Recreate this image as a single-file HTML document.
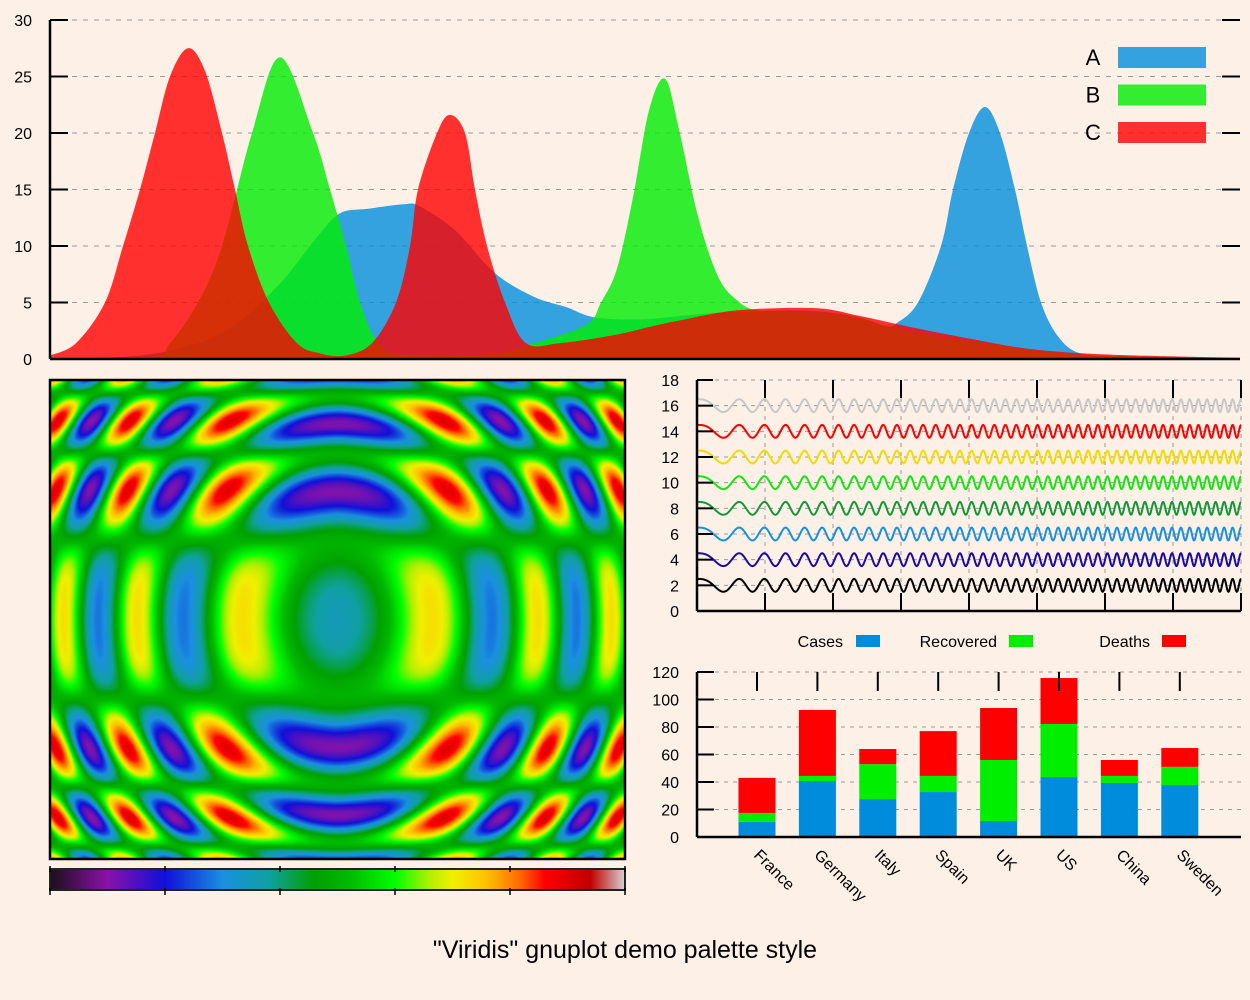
<!DOCTYPE html>
<html><head><meta charset="utf-8">
<style>
html,body{margin:0;padding:0;background:#fdf0e6;}
#wrap{position:relative;width:1250px;height:1000px;overflow:hidden;background:#fdf0e6;}
svg{position:absolute;left:0;top:0;}
#heat{position:absolute;left:51px;top:381px;}
text{font-family:"Liberation Sans",sans-serif;}
</style></head>
<body>
<div id="wrap">
<canvas id="heat" width="573" height="477"></canvas>
<svg id="svg" width="1250" height="1000" xmlns="http://www.w3.org/2000/svg">
  <text x="625" y="958" text-anchor="middle" font-size="25">"Viridis" gnuplot demo palette style</text>
</svg>
</div>
<script>
// ---------- Top area chart data (x in data units: 0..119, y 0..30) ----------
const aX=[0,8.9,14.8,18.8,22.7,24.7,26.7,29,31.8,35.4,37,40.5,44.5,48.4,51.6,54.4,59,63,67,74.6,79,82,83.5,84.7,86.8,89.1,90.3,91.9,93.5,95,96.5,97.7,99.1,100.8,103,107,113,119];
const aY=[0,0.3,1.4,3.2,6.4,8.5,10.8,12.9,13.3,13.7,13.5,11.4,7.6,5.5,4.6,3.7,3.5,3.8,4.1,4.3,4.0,3.4,2.9,3.2,5,10,15,20,22.3,20,15,10,5,2,0.5,0.25,0.15,0];
const bX=[0,10,12,14.8,17.2,20.2,23,26.3,28,29.6,31,32.8,35,40,45,48.4,53.6,55.1,56.7,58.3,59.9,61.5,62.9,64.8,66.8,68.7,70.7,75,80,85,90,95,100,105,119];
const bY=[0,0.1,1.4,5,10,20,26.7,20,15,10,5,1.4,0.4,0.3,0.5,1.4,3,5,8,14.3,22,24.8,20.3,12.6,7.3,5.2,4.3,4.1,3.8,2.6,1.8,1.2,0.6,0.3,0.05];
const cX=[0,2.6,5.5,7.3,9,10.5,12,13.8,15.5,17.2,18.5,19.8,21.9,24.7,27,29.5,32.2,34.6,36,36.8,38.7,40,41.5,42.5,43.7,45.5,47.6,51,56.3,60.7,62.9,68.7,76.5,81,86.2,92,97.9,105.7,119];
const cY=[0.3,1.4,5,10,15,20,25,27.5,25.5,20,15,10,5,1.4,0.5,0.3,1.4,5,10,15,20,21.6,20,15,10,5,1.4,1.4,2.1,3.0,3.4,4.3,4.5,3.8,2.8,1.8,0.9,0.4,0.1];
const topTicks=[0,5,10,15,20,25,30];
const legendLabels=["A","B","C"];

// ---------- Wave chart data ----------
const waveOffsets=[2,4,6,8,10,12,14,16];
const waveColors=["#000000","#1a0aa8","#1a90e0","#10983a","#12e612","#f2dc00","#ff0000","#c8c8c8"];
const waveTicks=[0,2,4,6,8,10,12,14,16,18];
const waveAmp=[0.5];
const waveCycles=[44];

// ---------- Bar chart data ----------
const countries=["France","Germany","Italy","Spain","UK","US","China","Sweden"];
const cases=[11,40.7,27.6,32.7,11.6,43.6,39.3,37.8];
const recovered=[6.5,3.7,25.4,11.7,44.4,38.6,5.1,13.2];
const deaths=[25.5,48,11,32.6,37.8,33.4,11.6,13.7];
const barTicks=[0,20,40,60,80,100,120];
const barSeries=["Cases","Recovered","Deaths"];

const NS="http://www.w3.org/2000/svg";
const svg=document.getElementById('svg');
function el(tag,attrs,parent){const e=document.createElementNS(NS,tag);for(const k in attrs)e.setAttribute(k,attrs[k]);(parent||svg).appendChild(e);return e;}
function txt(s,attrs,parent){const e=el('text',attrs,parent);e.textContent=s;return e;}

// ================= TOP CHART =================
const T={x0:50,x1:1240,y0:359,y1:20,xmax:119,ymax:30};
const tx=v=>T.x0+v/T.xmax*(T.x1-T.x0);
const ty=v=>T.y0-v/T.ymax*(T.y0-T.y1);
const gTop=el('g',{});


topTicks.forEach(v=>{
  if(v>0){const g=el('line',{x1:T.x0,x2:T.x1,y1:ty(v),y2:ty(v),stroke:'#999',"stroke-width":1,"stroke-dasharray":"5,6"},gTop);
  }
});
function smoothPath(xs,ys,fx,fy){
  const P=xs.map((x,i)=>[fx(x),fy(Math.max(0,ys[i]))]);
  let d=`M${P[0][0]},${P[0][1]}`;
  for(let i=0;i<P.length-1;i++){
    const p0=P[Math.max(0,i-1)],p1=P[i],p2=P[i+1],p3=P[Math.min(P.length-1,i+2)];
    let c1x=p1[0]+(p2[0]-p0[0])/6,c1y=p1[1]+(p2[1]-p0[1])/6;
    let c2x=p2[0]-(p3[0]-p1[0])/6,c2y=p2[1]-(p3[1]-p1[1])/6;
    c1y=Math.min(c1y,T.y0);c2y=Math.min(c2y,T.y0);
    d+=` C${c1x},${c1y} ${c2x},${c2y} ${p2[0]},${p2[1]}`;
  }
  return d;
}
[[aX,aY,'#008edc','area-a'],[bX,bY,'#00ed02','area-b'],[cX,cY,'#ff0000','area-c']].forEach(s=>{
  let d=smoothPath(s[0],s[1],tx,ty);
  d+=` L${tx(s[0][s[0].length-1])},${T.y0} L${tx(s[0][0])},${T.y0} Z`;
  const p=el('path',{d:d,fill:s[2],"fill-opacity":0.8},gTop);
  
  
});
el('line',{x1:T.x0,x2:T.x0,y1:T.y1,y2:T.y0,stroke:'#000',"stroke-width":2.5},gTop);
el('line',{x1:T.x0,x2:T.x1,y1:T.y0,y2:T.y0,stroke:'#000',"stroke-width":2.5},gTop);
topTicks.forEach(v=>{
  el('line',{x1:T.x0,x2:T.x0+18,y1:ty(v),y2:ty(v),stroke:'#000',"stroke-width":2},gTop);
  el('line',{x1:T.x1-18,x2:T.x1,y1:ty(v),y2:ty(v),stroke:'#000',"stroke-width":2},gTop);
  const t=txt(String(v),{x:32,y:ty(v)+6,"text-anchor":"end","font-size":16},gTop);
  
  
});
const legCols=['#008edc','#00ed02','#ff0000'];
legendLabels.forEach((l,i)=>{
  const y=57+i*37.5;
  const t=txt(l,{x:1093,y:y+8,"text-anchor":"middle","font-size":22},gTop);
  
  
  const r=el('rect',{x:1118,y:y-10,width:88,height:21,fill:legCols[i],"fill-opacity":0.8},gTop);
  
  
});

// ================= HEATMAP =================
(function(){
  const stops=[[0,[26,15,26]],[0.1,[138,18,168]],[0.2,[16,16,216]],[0.3,[26,144,224]],[0.38,[16,160,160]],[0.46,[0,160,0]],[0.52,[0,185,0]],[0.6,[0,255,0]],[0.66,[176,240,0]],[0.7,[240,240,0]],[0.76,[255,192,0]],[0.82,[255,100,0]],[0.86,[255,0,0]],[0.94,[192,0,0]],[1,[216,208,208]]];
  function pal(p){p=Math.max(0,Math.min(1,p));for(let i=0;i<stops.length-1;i++){if(p<=stops[i+1][0]){const a=stops[i],b=stops[i+1],t=(p-a[0])/(b[0]-a[0]);return a[1].map((c,k)=>c+(b[1][k]-c)*t);}}return stops[stops.length-1][1];}
  window.palStops=stops;
  const cv=document.getElementById('heat'),ctx=cv.getContext('2d');
  const W=cv.width,H=cv.height,img=ctx.createImageData(W,H);
  for(let j=0;j<H;j++){const y=(j+0.5)/H*2-1,ay=Math.abs(y);
    const V=Math.cos(8.1*Math.pow(ay,1.8)+0.47)*(1-0.38*Math.exp(-(y/0.3)*(y/0.3)));
    for(let i=0;i<W;i++){const x=(i+0.5)/W*2-1,ax=Math.abs(x);
      const U=Math.cos(16.1*Math.pow(ax,1.75)-2.32+8.3*y*y);
      const c=pal(0.5+0.4*U*V);const o=(j*W+i)*4;
      img.data[o]=c[0];img.data[o+1]=c[1];img.data[o+2]=c[2];img.data[o+3]=255;}}
  ctx.putImageData(img,0,0);
})();
const hb=el('rect',{x:50,y:380,width:575,height:479,fill:'none',stroke:'#000',"stroke-width":2.5});

// colorbar
const defs=el('defs',{});
const lg=el('linearGradient',{id:'cbg',x1:0,x2:1,y1:0,y2:0},defs);
palStops.forEach(s=>el('stop',{offset:s[0],"stop-color":`rgb(${s[1].join(',')})`},lg));
const cb=el('rect',{x:50,y:869,width:575,height:21,fill:'url(#cbg)',stroke:'#222',"stroke-width":2});

for(let k=0;k<=5;k++){const x=50+k*115;el('line',{x1:x,x2:x,y1:866,y2:872,stroke:'#000',"stroke-width":1.5});el('line',{x1:x,x2:x,y1:888,y2:895,stroke:'#000',"stroke-width":1.5});}

// ================= WAVE CHART =================
const Wv={x0:697,x1:1241,y0:611,y1:380,ymax:18};
const wy=v=>Wv.y0-v/Wv.ymax*(Wv.y0-Wv.y1);
const gW=el('g',{});

waveTicks.forEach(v=>{if(v>0)el('line',{x1:Wv.x0,x2:Wv.x1,y1:wy(v),y2:wy(v),stroke:'#999',"stroke-width":1,"stroke-dasharray":"4,5"},gW);});
for(let k=1;k<=8;k++){const x=Wv.x0+k*(Wv.x1-Wv.x0)/8;el('line',{x1:x,x2:x,y1:Wv.y1,y2:Wv.y0,stroke:'#999',"stroke-width":1,"stroke-dasharray":"4,5"},gW);}
waveOffsets.forEach((off,i)=>{
  let d='';const N=2200;
  for(let n=0;n<=N;n++){const t=n/N;const ph=2*Math.PI*Math.pow(t*Math.pow(waveCycles[0],1/1.48),1.48);
    const x=Wv.x0+t*(Wv.x1-Wv.x0),y=wy(off+waveAmp[0]*Math.cos(ph));d+=(n?'L':'M')+x.toFixed(2)+','+y.toFixed(2);}
  const p=el('path',{d:d,fill:'none',stroke:waveColors[i],"stroke-width":2},gW);
  
  
});
el('line',{x1:Wv.x0,x2:Wv.x0,y1:Wv.y1,y2:Wv.y0,stroke:'#000',"stroke-width":2.5},gW);
el('line',{x1:Wv.x0,x2:Wv.x1,y1:Wv.y0,y2:Wv.y0,stroke:'#000',"stroke-width":2.5},gW);
waveTicks.forEach(v=>{
  el('line',{x1:Wv.x0,x2:Wv.x0+16,y1:wy(v),y2:wy(v),stroke:'#000',"stroke-width":2},gW);
  const t=txt(String(v),{x:679,y:wy(v)+6,"text-anchor":"end","font-size":16},gW);
  
});
for(let k=1;k<=8;k++){const x=Wv.x0+k*(Wv.x1-Wv.x0)/8;
  el('line',{x1:x,x2:x,y1:Wv.y1,y2:Wv.y1+18,stroke:'#000',"stroke-width":2},gW);
  el('line',{x1:x,x2:x,y1:Wv.y0-18,y2:Wv.y0,stroke:'#000',"stroke-width":2},gW);}

// ================= BAR CHART =================
const Bc={x0:697,x1:1241,y0:837,y1:672,ymax:120,first:757,step:60.4,bw:37};
const by=v=>Bc.y0-v/Bc.ymax*(Bc.y0-Bc.y1);
const bx=i=>Bc.first+i*Bc.step;
const gB=el('g',{});

barTicks.forEach(v=>{if(v>0)el('line',{x1:Bc.x0,x2:Bc.x1,y1:by(v),y2:by(v),stroke:'#999',"stroke-width":1,"stroke-dasharray":"4,5"},gB);});
const barCols=['#008cdc','#00ee00','#ff0000'];
countries.forEach((c,i)=>{
  const vals=[cases[i],recovered[i],deaths[i]];let base=0;
  vals.forEach((v,k)=>{
    const r=el('rect',{x:bx(i)-Bc.bw/2,y:by(base+v),width:Bc.bw,height:by(base)-by(base+v),fill:barCols[k]},gB);
    
    
    base+=v;
  });
  el('line',{x1:bx(i),x2:bx(i),y1:Bc.y1,y2:Bc.y1+19,stroke:'#000',"stroke-width":2},gB);
  const t=txt(c,{x:bx(i)-4,y:856,"font-size":16,transform:`rotate(45 ${bx(i)-4} 856)`},gB);
  
});
el('line',{x1:Bc.x0,x2:Bc.x0,y1:Bc.y1,y2:Bc.y0,stroke:'#000',"stroke-width":2.5},gB);
el('line',{x1:Bc.x0,x2:Bc.x1,y1:Bc.y0,y2:Bc.y0,stroke:'#000',"stroke-width":2.5},gB);
barTicks.forEach(v=>{
  el('line',{x1:Bc.x0,x2:Bc.x0+17,y1:by(v),y2:by(v),stroke:'#000',"stroke-width":2},gB);
  const t=txt(String(v),{x:679,y:by(v)+6,"text-anchor":"end","font-size":16},gB);
  
});
const legX=[843,997,1150],boxX=[856,1009,1162];
barSeries.forEach((s,k)=>{
  const t=txt(s,{x:legX[k],y:647,"text-anchor":"end","font-size":16},gB);
  
  const r=el('rect',{x:boxX[k],y:635,width:24,height:12,fill:barCols[k]},gB);
  
});
</script>
</body></html>
